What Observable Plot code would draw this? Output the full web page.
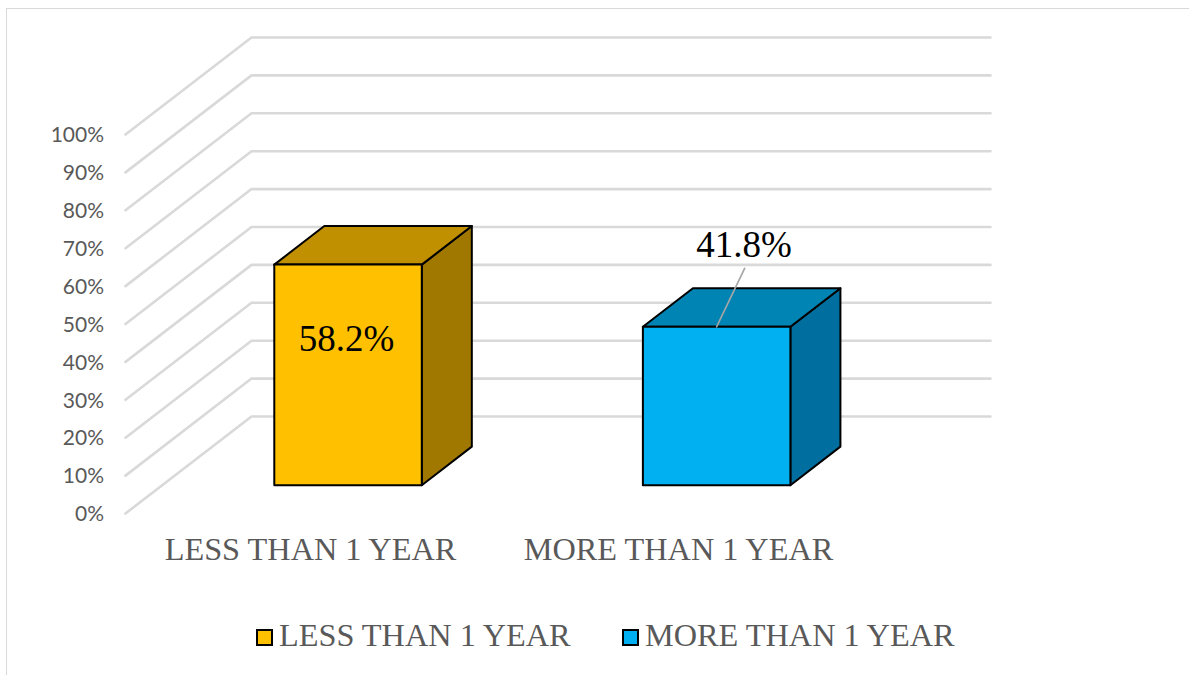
<!DOCTYPE html>
<html>
<head>
<meta charset="utf-8">
<script src="https://cdn.jsdelivr.net/npm/d3@7"></script>
<script src="https://cdn.jsdelivr.net/npm/@observablehq/plot@0.6"></script>
<style>
  html, body { margin: 0; padding: 0; background: #fff; }
  #frame { position: relative; width: 1189px; height: 675px; overflow: hidden; }
  #frame::before { content: ""; position: absolute; left: 6px; top: 8px; width: 1200px; height: 700px;
    border: 1.5px solid #d9d9d9; box-sizing: border-box; }
  #chart { position: absolute; left: 0; top: 0; }
  #legend { position: absolute; left: 0; top: 615px; width: 1189px; height: 40px;
    font-family: "Liberation Serif", serif; font-size: 32.3px; color: #595959; }
  #legend span.item { position: absolute; top: 0; line-height: 40px; white-space: nowrap; }
  #legend i { position: absolute; top: 14px; width: 17px; height: 17px; box-sizing: border-box; border: 2px solid #000; }
</style>
</head>
<body>
<div id="frame">
  <div id="chart"></div>
  <div id="legend"></div>
</div>
<script>
// Survey shares by duration group
const categories = ["LESS THAN 1 YEAR", "MORE THAN 1 YEAR"];
const shares = [58.2, 41.8];
const shareLabels = ["58.2%", "41.8%"];
const frontColors = ["#ffc000", "#00b0f0"];
const topColors = ["#c09000", "#0084b4"];
const sideColors = ["#a07800", "#006f9f"];
const percentTicks = d3.range(0, 101, 10);

// Oblique projection: a point on the floor plane is (x, value, depth),
// where depth 0 is the front edge and depth 1 the back wall.
const depthDx = 126;
const depthDy = 25.6; // percent units per full depth
const project = (x, value, depth) => ({x: x + depth * depthDx, y: value + depth * depthDy});

const wallLeft = 125;
const wallRight = 864;
const barLeft = [237, 605.6];
const barWidth = 147.5;
const barFrontDepth = 0.292;
const barDepth = 0.397;

// Gridlines: front-left slant joined to the run along the back wall
const gridlines = percentTicks.flatMap((t) => [
  {t, ...project(wallLeft, t, 0)},
  {t, ...project(wallLeft, t, 1)},
  {t, ...project(wallRight, t, 1)}
]);

// Each bar face is a closed polygon in the same projected coordinates
const faces = [];
categories.forEach((c, i) => {
  const x0 = barLeft[i], x1 = x0 + barWidth, v = shares[i];
  const d0 = barFrontDepth, d1 = barFrontDepth + barDepth;
  const poly = (id, fill, corners) => corners.forEach(([x, y, d]) =>
    faces.push({id: `${c}-${id}`, fill, ...project(x, y, d)}));
  poly("side", sideColors[i], [[x1, 0, d0], [x1, 0, d1], [x1, v, d1], [x1, v, d0], [x1, 0, d0]]);
  poly("top", topColors[i], [[x0, v, d0], [x0, v, d1], [x1, v, d1], [x1, v, d0], [x0, v, d0]]);
  poly("front", frontColors[i], [[x0, 0, d0], [x1, 0, d0], [x1, v, d0], [x0, v, d0], [x0, 0, d0]]);
});

// Value labels: the first sits on the front face, the second above the bar with a leader
const barCenter = (i) => barLeft[i] + barWidth / 2;
const valueLabels = [
  {label: shareLabels[0], ...project(barCenter(0) - 1.5, 38.6, barFrontDepth)},
  {label: shareLabels[1], ...project(barCenter(1) + 27.5, 63.2, barFrontDepth)}
];
const leader = [
  project(barCenter(1), shares[1], barFrontDepth),
  project(barCenter(1) + 28, 57.2, barFrontDepth)
];

const chart = Plot.plot({
  width: 1189,
  height: 600,
  marginLeft: 0, marginRight: 0, marginTop: 0, marginBottom: 0,
  style: {background: "transparent"},
  x: {type: "linear", domain: [0, 1189], range: [0, 1189], axis: null},
  y: {type: "linear", domain: [0, 100], range: [513, 134], axis: null},
  marks: [
    Plot.line(gridlines, {
      x: "x", y: "y", z: "t", stroke: "#d9d9d9", strokeWidth: 2.6, strokeLinejoin: "round", curve: "linear"
    }),
    Plot.text(percentTicks, {
      x: () => wallLeft - 21.5, y: (d) => d, text: (d) => `${d}%`, dy: 1,
      textAnchor: "end", fontFamily: "Lato", fontSize: 21, fill: "#595959"
    }),
    Plot.line(faces, {
      x: "x", y: "y", z: "id", fill: (d) => d.fill, stroke: "#000", strokeWidth: 2,
      strokeLinejoin: "round", curve: "linear"
    }),
    Plot.line(leader, {x: "x", y: "y", stroke: "#a6a6a6", strokeWidth: 1.7}),
    Plot.text(valueLabels, {
      x: "x", y: "y", text: "label", fontFamily: "Liberation Serif", fontSize: 37, fill: "#000"
    }),
    Plot.text(categories, {
      x: (d, i) => [310, 678][i], y: () => -9.45, text: (d) => d,
      fontFamily: "Liberation Serif", fontSize: 32.3, fill: "#595959"
    })
  ]
});
chart.style.display = "block";
chart.style.overflow = "visible";
document.getElementById("chart").append(chart);

// Legend below the plot
const legend = document.getElementById("legend");
[256, 622].forEach((left, i) => {
  const swatch = document.createElement("i");
  swatch.style.left = `${left}px`;
  swatch.style.background = frontColors[i];
  const item = document.createElement("span");
  item.className = "item";
  item.style.left = `${left + 23}px`;
  item.textContent = categories[i];
  legend.append(swatch, item);
});
</script>
</body>
</html>
